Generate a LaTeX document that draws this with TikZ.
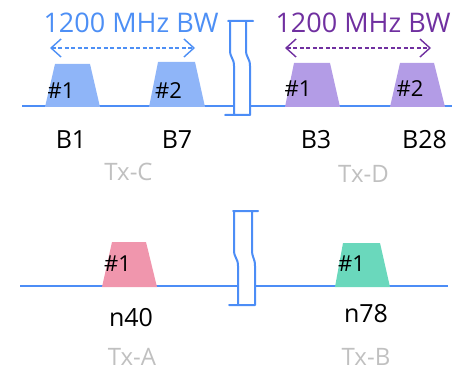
\documentclass[tikz,border=0pt]{standalone}
\usepackage{fontspec}
\setmainfont{Open Sans}
\usepackage{tikz}
\usetikzlibrary{arrows.meta}

\definecolor{axisblue}{HTML}{4C8DF6}
\definecolor{bwblue}{HTML}{4D8FF5}
\definecolor{bwpurple}{HTML}{7030A0}
\definecolor{bandC}{HTML}{8FB5F8}
\definecolor{bandD}{HTML}{B39CE6}
\definecolor{bandA}{HTML}{F096AD}
\definecolor{bandB}{HTML}{6AD8BC}
\definecolor{txgray}{HTML}{C0C0C0}

\begin{document}
\begin{tikzpicture}[
  x=1pt, y=-1pt,
  axis/.style={draw=axisblue, line width=2.2pt},
  gap/.style={draw=axisblue, line width=2pt, line join=round, line cap=round},
  num/.style={font=\fontsize{22}{22}\selectfont, inner sep=0pt},
  band/.style={font=\fontsize{25}{25}\selectfont, inner sep=0pt},
  tx/.style={font=\fontsize{24}{24}\selectfont, text=txgray, inner sep=0pt},
  bw/.style={font=\fontsize{27}{27}\selectfont, inner sep=0pt},
  span/.style={{Straight Barb[length=10pt, width=18pt]}-{Straight Barb[length=10pt, width=18pt]}, line width=1.4pt, dash pattern=on 4pt off 2.5pt}
]
\useasboundingbox (0,0) rectangle (454,371);

% top row
\draw[axis] (22,106) -- (452,106);
\fill[bandC] (45,107) -- (55,64) -- (90,64) -- (100,107) -- cycle;
\fill[bandC] (149,107) -- (158,62) -- (195,62) -- (205,107) -- cycle;
\fill[bandD] (285,107) -- (294,63) -- (330,63) -- (340,107) -- cycle;
\fill[bandD] (390,107) -- (400,63) -- (434,63) -- (445,107) -- cycle;
\fill[white] (231,23) -- (245,23) -- (245,50) .. controls (245,58) and (249,58) .. (249,66) -- (249,114) -- (235,114) -- (235,66) .. controls (235,58) and (231,58) .. (231,50) -- cycle;
\draw[gap] (228,21) -- (253,21)
  (230,21) -- (230,50) .. controls (230,58) and (234,58) .. (234,66) -- (234,115)
  (246,21) -- (246,50) .. controls (246,58) and (250,58) .. (250,66) -- (250,115)
  (225,115) -- (250,115);

\node[num] (c1) at (61,91) {\#1};
\node[num] (c2) at (168.5,91) {\#2};
\node[num] (d1) at (298,89) {\#1};
\node[num] (d2) at (410,89) {\#2};

\node[band] (b1) at (71,139.5) {B1};
\node[band] (b7) at (177,139.5) {B7};
\node[band] (b3) at (316,140) {B3};
\node[band] (b28) at (424.5,140) {B28};
\node[tx] (txc) at (128.5,172) {Tx-C};
\node[tx] (txd) at (363.5,174) {Tx-D};

\node[bw, text=bwblue] (bwc) at (131,23) {1200 MHz BW};
\node[bw, text=bwpurple] (bwd) at (363,23) {1200 MHz BW};
\coordinate (bwcL) at (50,48);
\coordinate (bwcR) at (195,48);
\coordinate (bwdL) at (285,48);
\coordinate (bwdR) at (431,48);
\draw[span, draw=bwblue] (bwcL) -- (bwcR);
\draw[span, draw=bwpurple] (bwdL) -- (bwdR);

% bottom row
\draw[axis] (20,286) -- (448,286);
\fill[bandA] (102,287) -- (112,242) -- (146,242) -- (157,287) -- cycle;
\fill[bandB] (335,287) -- (343,243) -- (380,243) -- (390,287) -- cycle;
\fill[white] (235,213) -- (251,213) -- (251,250) .. controls (251,258) and (254,258) .. (254,266) -- (254,304) -- (239,304) -- (239,266) .. controls (239,258) and (235,258) .. (235,250) -- cycle;
\draw[gap] (233,211) -- (258,211)
  (234,211) -- (234,250) .. controls (234,258) and (238,258) .. (238,266) -- (238,305)
  (252,211) -- (252,250) .. controls (252,258) and (255,258) .. (255,266) -- (255,305)
  (229,305) -- (255,305);

\node[num] (a1) at (117.5,264) {\#1};
\node[num] (e1) at (351.5,264) {\#1};
\node[band] (n40) at (131,318) {n40};
\node[band] (n78) at (366,313.5) {n78};
\node[tx] (txa) at (132,357) {Tx-A};
\node[tx] (txb) at (366,357) {Tx-B};
\end{tikzpicture}
\end{document}
